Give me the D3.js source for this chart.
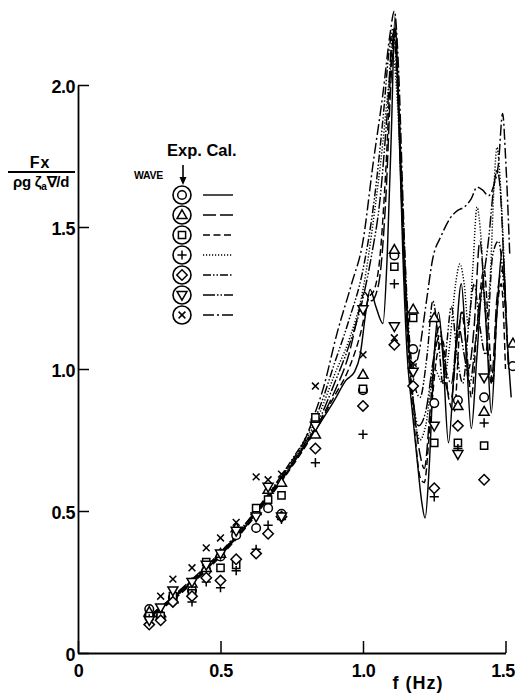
<!DOCTYPE html>
<html><head><meta charset="utf-8">
<script src="https://cdn.jsdelivr.net/npm/d3@7"></script>
<style>
body{margin:0;background:#fff}
svg{display:block}
text{font-family:"Liberation Sans",Arial,sans-serif;fill:#000;font-weight:bold}
</style>
</head><body><svg id="c" width="515" height="695"></svg>
<script>
// ---- tick labels ----
const xTicks = [0, 0.5, 1.0, 1.5];
const yTicks = [0, 0.5, 1.0, 1.5, 2.0];
const xTickLabels = ["0", "0.5", "1.0", "1.5"];
const yTickLabels = ["0", "0.5", "1.0", "1.5", "2.0"];

// ---- calculated curves [f (Hz), Fx/(ρgζa∇/d)] ----
const calSolid = [[0.25,0.125],[0.30,0.165],[0.35,0.205],[0.40,0.25],[0.45,0.295],[0.50,0.345],[0.55,0.40],[0.60,0.46],[0.65,0.525],[0.70,0.59],[0.75,0.66],[0.80,0.735],
 [0.85,0.81],[0.90,0.89],[0.94,0.96],[0.97,0.99],[0.99,1.05],[1.01,1.2],[1.025,1.28],[1.045,1.22],[1.07,1.16],[1.085,1.4],[1.10,1.85],[1.112,2.24],[1.125,1.9],[1.14,1.4],[1.155,1.05],[1.17,0.88],[1.19,0.68],[1.205,0.54],[1.218,0.475],[1.232,0.65],[1.25,1.05],[1.265,1.2],[1.28,1.05],[1.30,0.74],[1.32,1.0],[1.345,1.3],[1.36,1.1],[1.38,0.79],[1.40,1.05],[1.42,1.3],[1.435,1.1],[1.45,0.845],[1.47,1.2],[1.49,1.42],[1.505,1.12],[1.52,0.9]];
const calLongDash = [[0.25,0.13],[0.30,0.17],[0.35,0.21],[0.40,0.255],[0.45,0.30],[0.50,0.35],[0.55,0.405],[0.60,0.465],[0.65,0.53],[0.70,0.595],[0.75,0.665],[0.80,0.74],
 [0.85,0.82],[0.90,0.92],[0.95,1.05],[0.99,1.22],[1.005,1.27],[1.03,1.24],[1.055,1.3],[1.08,1.6],[1.10,2.05],[1.112,2.2],[1.125,1.95],[1.14,1.5],[1.16,1.1],[1.18,0.85],[1.20,0.7],[1.215,0.65],[1.235,0.85],[1.255,1.1],[1.27,1.15],[1.29,0.95],[1.31,0.9],[1.33,1.1],[1.35,1.2],[1.37,1.0],[1.39,1.15],[1.41,1.45],[1.43,1.2],[1.45,0.95],[1.47,1.25],[1.49,1.35],[1.51,1.0]];
const calDash = [[0.25,0.12],[0.30,0.16],[0.35,0.20],[0.40,0.245],[0.45,0.29],[0.50,0.34],[0.55,0.395],[0.60,0.455],[0.65,0.52],[0.70,0.585],[0.75,0.655],[0.80,0.73],
 [0.85,0.815],[0.90,0.905],[0.95,1.0],[0.99,1.12],[1.02,1.25],[1.04,1.28],[1.06,1.4],[1.08,1.7],[1.10,2.1],[1.11,2.2],[1.125,1.95],[1.14,1.5],[1.16,1.05],[1.18,0.8],[1.20,0.62],[1.215,0.6],[1.235,0.8],[1.26,1.05],[1.28,1.1],[1.30,0.9],[1.32,0.85],[1.345,1.2],[1.365,1.05],[1.38,0.9],[1.40,1.15],[1.425,1.35],[1.44,1.15],[1.455,0.95],[1.47,1.2],[1.485,1.3],[1.50,1.0]];
const calDot = [[0.25,0.125],[0.30,0.165],[0.35,0.21],[0.40,0.255],[0.45,0.30],[0.50,0.35],[0.55,0.405],[0.60,0.465],[0.65,0.53],[0.70,0.6],[0.75,0.67],[0.80,0.75],
 [0.85,0.85],[0.90,0.98],[0.95,1.1],[1.00,1.28],[1.04,1.55],[1.07,1.8],[1.09,2.0],[1.105,2.1],[1.12,1.95],[1.14,1.5],[1.16,1.1],[1.18,0.85],[1.20,0.75],[1.22,0.8],[1.25,1.0],[1.28,0.95],[1.30,1.05],[1.325,1.3],[1.34,1.37],[1.355,1.3],[1.37,1.15],[1.385,1.35],[1.40,1.57],[1.415,1.45],[1.43,1.2],[1.445,1.3],[1.46,1.65],[1.47,1.78],[1.485,1.6],[1.50,1.25]];
const calDashDotDot = [[0.25,0.12],[0.30,0.165],[0.35,0.21],[0.40,0.255],[0.45,0.30],[0.50,0.35],[0.55,0.41],[0.60,0.47],[0.65,0.535],[0.70,0.605],[0.75,0.68],[0.80,0.76],
 [0.85,0.87],[0.90,1.02],[0.95,1.17],[1.00,1.35],[1.04,1.6],[1.07,1.88],[1.095,2.15],[1.105,2.2],[1.12,2.0],[1.14,1.55],[1.16,1.15],[1.18,0.95],[1.20,0.9],[1.225,1.05],[1.245,1.24],[1.265,1.1],[1.28,0.95],[1.295,1.1],[1.31,1.22],[1.33,1.05],[1.35,0.95],[1.375,1.2],[1.39,1.3],[1.41,1.15],[1.43,1.05],[1.455,1.4],[1.475,1.45],[1.50,1.2]];
const calLongDashDotDot = [[0.25,0.125],[0.30,0.165],[0.35,0.205],[0.40,0.25],[0.45,0.295],[0.50,0.345],[0.55,0.40],[0.60,0.46],[0.65,0.525],[0.70,0.59],[0.75,0.665],[0.80,0.745],
 [0.85,0.83],[0.90,0.95],[0.95,1.08],[1.00,1.25],[1.03,1.4],[1.06,1.6],[1.085,1.9],[1.105,2.18],[1.12,2.05],[1.135,1.6],[1.155,1.15],[1.175,0.9],[1.195,0.8],[1.22,0.85],[1.25,1.05],[1.27,1.12],[1.29,1.0],[1.31,0.95],[1.335,1.15],[1.355,1.05],[1.375,0.95],[1.395,1.1],[1.42,1.3],[1.44,1.45],[1.46,1.65],[1.47,1.70],[1.48,1.65],[1.495,1.35],[1.505,1.1]];
const calDashDot = [[0.25,0.13],[0.30,0.17],[0.35,0.215],[0.40,0.26],[0.45,0.305],[0.50,0.355],[0.55,0.41],[0.60,0.47],[0.65,0.535],[0.70,0.6],[0.75,0.675],[0.80,0.76],
 [0.83,0.84],[0.86,0.93],[0.91,1.13],[0.96,1.3],[1.00,1.45],[1.035,1.72],[1.07,1.97],[1.095,2.18],[1.11,2.26],[1.125,2.05],[1.14,1.6],[1.155,1.2],[1.175,1.0],[1.195,1.05],[1.22,1.22],[1.245,1.39],[1.275,1.47],[1.305,1.53],[1.335,1.56],[1.355,1.57],[1.38,1.6],[1.40,1.64],[1.42,1.63],[1.44,1.61],[1.46,1.65],[1.475,1.72],[1.49,1.9],[1.50,1.75],[1.515,1.4]];

// ---- experimental points ----
const expCircle = [[0.25,0.155],[0.29,0.12],[0.333,0.195],[0.40,0.22],[0.45,0.29],[0.50,0.34],[0.555,0.415],[0.625,0.44],[0.667,0.51],[0.714,0.49],[0.833,0.82],[1.0,0.925],[1.11,1.40],[1.176,1.07],[1.25,0.88],[1.333,0.89],[1.425,0.90],[1.526,1.01]];
const expTriangle = [[0.25,0.145],[0.29,0.14],[0.333,0.19],[0.40,0.245],[0.45,0.30],[0.50,0.35],[0.555,0.44],[0.625,0.50],[0.667,0.575],[0.714,0.60],[0.833,0.77],[1.0,0.98],[1.11,1.42],[1.176,1.21],[1.25,1.18],[1.333,0.87],[1.425,0.85],[1.526,1.09]];
const expSquare = [[0.25,0.13],[0.29,0.13],[0.333,0.20],[0.40,0.21],[0.45,0.32],[0.50,0.30],[0.555,0.31],[0.625,0.51],[0.667,0.54],[0.714,0.555],[0.833,0.83],[1.0,0.93],[1.11,1.36],[1.176,1.18],[1.25,0.74],[1.333,0.74],[1.425,0.73]];
const expPlus = [[0.25,0.12],[0.333,0.18],[0.40,0.18],[0.45,0.25],[0.50,0.23],[0.555,0.29],[0.625,0.365],[0.667,0.45],[0.714,0.47],[0.833,0.67],[1.0,0.77],[1.11,1.30],[1.176,1.0],[1.25,0.55],[1.333,0.72],[1.425,0.81]];
const expDiamond = [[0.25,0.10],[0.29,0.115],[0.333,0.18],[0.40,0.20],[0.45,0.265],[0.50,0.255],[0.555,0.33],[0.625,0.35],[0.667,0.42],[0.714,0.48],[0.833,0.72],[1.0,0.87],[1.11,1.085],[1.176,0.94],[1.25,0.58],[1.333,0.80],[1.425,0.61]];
const expTriDown = [[0.25,0.115],[0.29,0.16],[0.333,0.22],[0.40,0.25],[0.45,0.31],[0.50,0.35],[0.555,0.43],[0.625,0.48],[0.667,0.585],[0.714,0.48],[0.833,0.80],[1.0,1.21],[1.11,1.15],[1.176,0.99],[1.25,0.80],[1.333,0.70],[1.425,0.97]];
const expCross = [[0.29,0.20],[0.333,0.26],[0.40,0.30],[0.45,0.37],[0.50,0.405],[0.555,0.46],[0.625,0.62],[0.667,0.61],[0.714,0.63],[0.833,0.94],[1.0,1.05],[1.11,1.11],[1.176,1.02]];

// ---- styles ----
const markerPaths = {
  circle: "M4.3,0A4.3,4.3 0 1,1 -4.3,0A4.3,4.3 0 1,1 4.3,0Z",
  triangle: "M0,-5.2L5,3.6L-5,3.6Z",
  square: "M-3.6,-3.6H3.6V3.6H-3.6Z",
  plus: "M-4.6,0H4.6M0,-4.6V4.6",
  diamond: "M0,-5.2L5.2,0L0,5.2L-5.2,0Z",
  triDown: "M0,5.2L5,-3.6L-5,-3.6Z",
  cross: "M-3.4,-3.4L3.4,3.4M3.4,-3.4L-3.4,3.4"
};
const series = [
  {exp: expCircle,   marker: "circle",   cal: calSolid,          dash: null},
  {exp: expTriangle, marker: "triangle", cal: calLongDash,       dash: "13,4"},
  {exp: expSquare,   marker: "square",   cal: calDash,           dash: "7,3.5"},
  {exp: expPlus,     marker: "plus",     cal: calDot,            dash: "1.2,1.8"},
  {exp: expDiamond,  marker: "diamond",  cal: calDashDotDot,     dash: "8,2,1.5,2,1.5,2"},
  {exp: expTriDown,  marker: "triDown",  cal: calLongDashDotDot, dash: "12,2,1.5,2,1.5,2"},
  {exp: expCross,    marker: "cross",    cal: calDashDot,        dash: "11,3,2,3"}
];

const svg = d3.select("#c");
const x = d3.scaleLinear().domain([0, 1.5]).range([78, 505.5]);
const y = d3.scaleLinear().domain([0, 2]).range([653, 85]);

// axes
const yAxis = d3.axisLeft(y).tickValues(yTicks).tickSize(-11).tickSizeOuter(0).tickPadding(3)
  .tickFormat((d,i) => yTickLabels[i]);
const xAxis = d3.axisBottom(x).tickValues(xTicks).tickSize(-12).tickSizeOuter(0).tickPadding(11)
  .tickFormat((d,i) => xTickLabels[i]);

const gy = svg.append("g").attr("transform", "translate(78,0)").call(yAxis);
const gx = svg.append("g").attr("transform", "translate(0,653)").call(xAxis);
[gy, gx].forEach(g => {
  g.select(".domain").attr("stroke", "#000").attr("stroke-width", 1.8);
  g.selectAll(".tick line").attr("stroke", "#000").attr("stroke-width", 1.5);
  g.selectAll(".tick text").style("font-family", '"Liberation Sans",Arial,sans-serif')
    .style("font-size", "18px").style("font-weight", "bold").attr("fill", "#000")
    .attr("letter-spacing", "-0.5");
});
gy.selectAll(".tick text").attr("dy", "0.42em");
gx.selectAll(".tick text").filter((d,i) => i === xTicks.length - 1).attr("dx", -3);

// axis titles
svg.append("text").attr("x", 418).attr("y", 689).attr("text-anchor", "middle")
  .style("font-size", "18px").attr("letter-spacing", "1").text("f (Hz)");
svg.append("text").attr("x", 40).attr("y", 168).attr("text-anchor", "middle")
  .style("font-size", "16px").attr("letter-spacing", "1").text("Fx");
svg.append("line").attr("x1", 8).attr("x2", 75).attr("y1", 172).attr("y2", 172)
  .attr("stroke", "#000").attr("stroke-width", 1.8);
const den = svg.append("text").attr("x", 41).attr("y", 187).attr("text-anchor", "middle")
  .style("font-size", "15px").attr("letter-spacing", "-0.3");
den.append("tspan").text("ρg ζ");
den.append("tspan").attr("dy", 3).style("font-size", "10px").text("a");
den.append("tspan").attr("dy", -3).text("∇/d");

// calculated lines
const line = d3.line().x(d => x(d[0])).y(d => y(d[1])).curve(d3.curveMonotoneX);
series.forEach(s => {
  svg.append("path").datum(s.cal).attr("d", line)
    .attr("fill", "none").attr("stroke", "#000").attr("stroke-width", 1.45)
    .attr("stroke-dasharray", s.dash);
});

// experimental markers
series.forEach(s => {
  svg.append("g").selectAll("path").data(s.exp).join("path")
    .attr("transform", d => `translate(${x(d[0])},${y(d[1])})`)
    .attr("d", markerPaths[s.marker])
    .attr("fill", (s.marker === "plus" || s.marker === "cross") ? "none" : "#fff")
    .attr("stroke", "#000").attr("stroke-width", 1.5);
});

// legend
svg.append("text").attr("x", 167).attr("y", 156).style("font-size", "16.5px").text("Exp. Cal.");
svg.append("text").attr("x", 134).attr("y", 179).style("font-size", "10.5px")
  .attr("letter-spacing", "-0.3").text("WAVE");
svg.append("line").attr("x1", 183).attr("x2", 183).attr("y1", 165).attr("y2", 180)
  .attr("stroke", "#000").attr("stroke-width", 1.6);
svg.append("path").attr("d", "M179.5,177L183,185L186.5,177Z").attr("fill", "#000");

const leg = svg.append("g").selectAll("g").data(series).join("g")
  .attr("transform", (d, i) => `translate(182,${195 + i * 20})`);
leg.append("circle").attr("r", 9).attr("fill", "#fff").attr("stroke", "#000").attr("stroke-width", 1.6);
leg.append("path").attr("d", d => markerPaths[d.marker]).attr("fill", "none")
  .attr("stroke", "#000").attr("stroke-width", 1.5);
leg.append("line").attr("x1", 21).attr("x2", 51).attr("y1", 0).attr("y2", 0)
  .attr("stroke", "#000").attr("stroke-width", 1.4).attr("stroke-dasharray", d => d.dash);
</script></body></html>
